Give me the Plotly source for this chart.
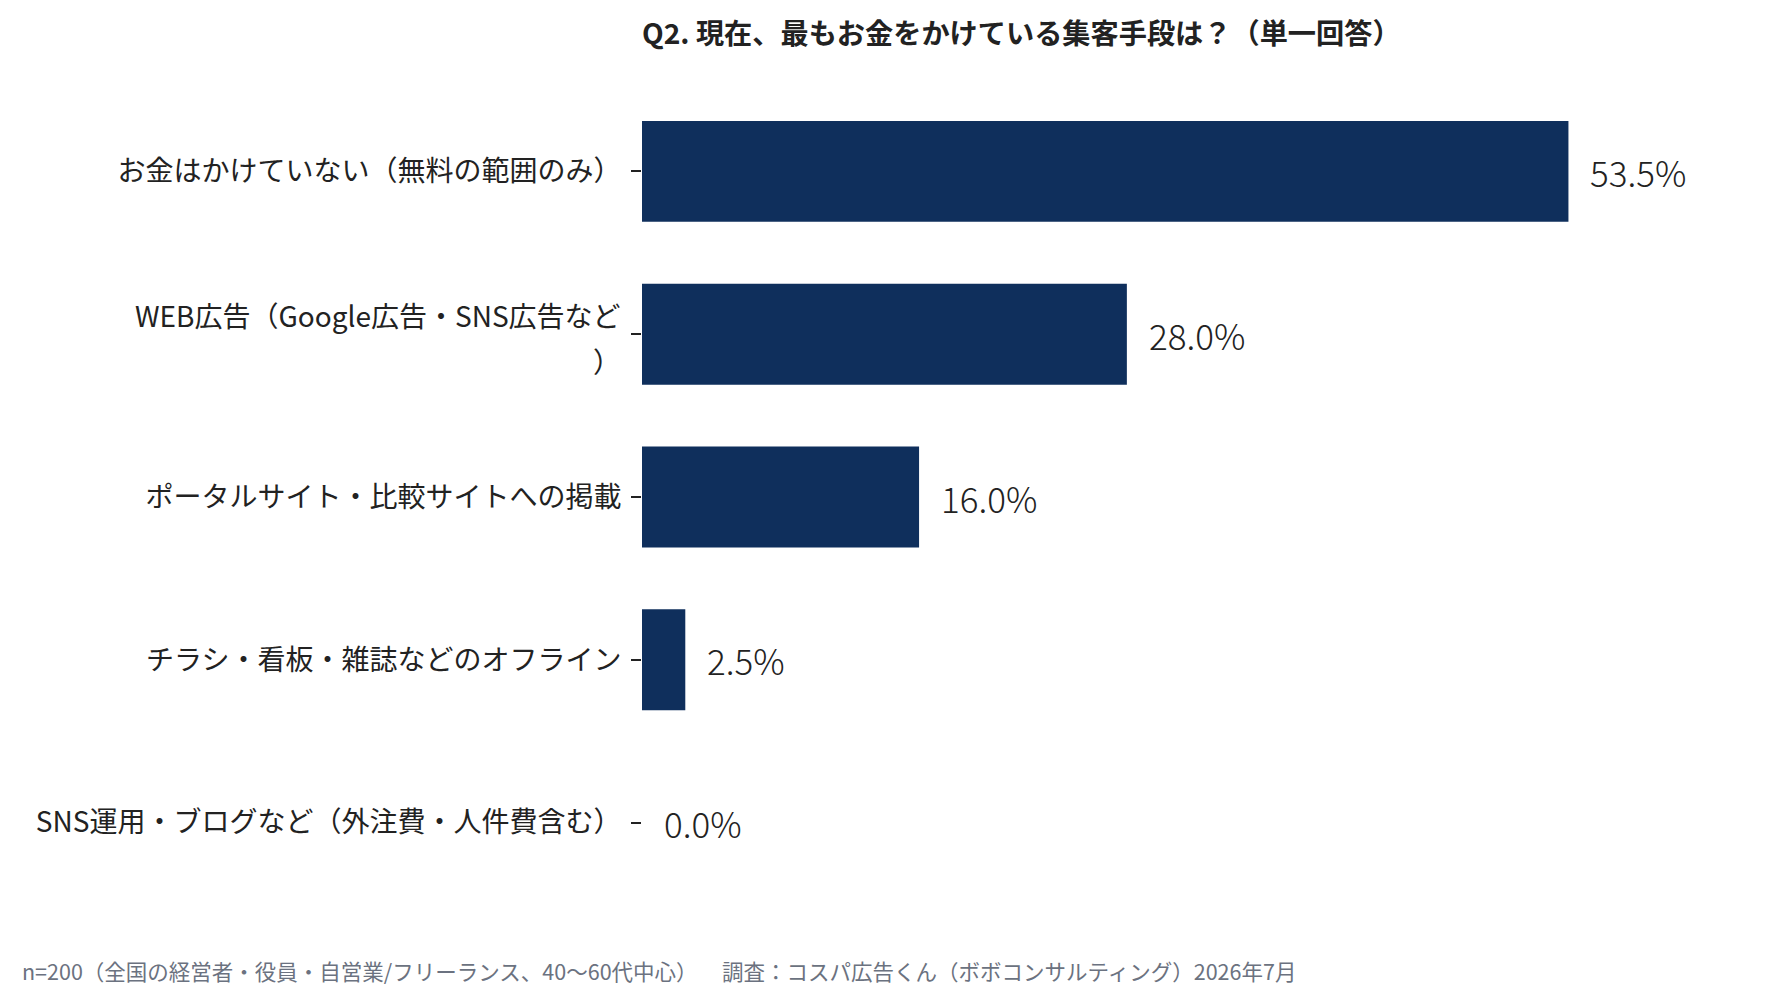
import plotly.graph_objects as go

# ---- data ----
categories = [
    "お金はかけていない（無料の範囲のみ）",
    "WEB広告（Google広告・SNS広告など<br>）",
    "ポータルサイト・比較サイトへの掲載",
    "チラシ・看板・雑誌などのオフライン",
    "SNS運用・ブログなど（外注費・人件費含む）",
]
values = [53.5, 28.0, 16.0, 2.5, 0.0]
value_labels = [f"{v:.1f}%" for v in values]

title_text = "Q2. 現在、最もお金をかけている集客手段は？（単一回答）"
footer_sample = "n=200（全国の経営者・役員・自営業/フリーランス、40〜60代中心）"
footer_source = "調査：コスパ広告くん（ボボコンサルティング）2026年7月"

# ---- style ----
BAR_COLOR = "#0f2f5c"
TEXT_COLOR = "#222222"
FOOT_COLOR = "#6b7280"
FONT = "Noto Sans CJK JP"
TICK_SIZE = 28

W, H = 1791, 1001
ML, MR, MT, MB = 642, 110, 90, 97
plot_w = W - ML - MR
plot_h = H - MT - MB

fig = go.Figure()
fig.add_trace(go.Bar(
    x=values,
    y=categories,
    orientation="h",
    marker=dict(color=BAR_COLOR, line=dict(width=0)),
    hoverinfo="skip",
))

annotations = []
# value labels next to bars
for cat, v, lab in zip(categories, values, value_labels):
    annotations.append(dict(
        x=v, y=cat, xref="x", yref="y",
        text=lab, showarrow=False,
        xanchor="left", yanchor="middle", xshift=20,
        font=dict(family=FONT, size=35, color=TEXT_COLOR, weight=300),
    ))

# wrapped category labels drawn line by line (wider line spacing)
ticktext = []
for cat in categories:
    if "<br>" in cat:
        ticktext.append("")
        lines = cat.split("<br>")
        shifts = [19, -27]
        for line, ys in zip(lines, shifts):
            annotations.append(dict(
                x=0, y=cat, xref="paper", yref="y",
                text=line, showarrow=False,
                xanchor="right", yanchor="middle",
                xshift=-19, yshift=ys,
                font=dict(family=FONT, size=TICK_SIZE, color=TEXT_COLOR),
            ))
    else:
        ticktext.append(cat)

# footer
foot_y = -(970 - (H - MB)) / plot_h
annotations.append(dict(
    x=(20 - ML) / plot_w, y=foot_y, xref="paper", yref="paper",
    text=footer_sample, showarrow=False,
    xanchor="left", yanchor="middle",
    font=dict(family=FONT, size=21.5, color=FOOT_COLOR),
))
annotations.append(dict(
    x=(720 - ML) / plot_w, y=foot_y, xref="paper", yref="paper",
    text=footer_source, showarrow=False,
    xanchor="left", yanchor="middle",
    font=dict(family=FONT, size=21.5, color=FOOT_COLOR),
))

fig.update_layout(
    width=W, height=H,
    margin=dict(l=ML, r=MR, t=MT, b=MB, pad=0),
    paper_bgcolor="white",
    plot_bgcolor="white",
    bargap=0.38,
    showlegend=False,
    font=dict(family=FONT, color=TEXT_COLOR),
    title=dict(
        text=f"<b>{title_text}</b>",
        x=0, xref="paper", xanchor="left",
        y=1 - 34 / H, yref="container", yanchor="middle",
        font=dict(family=FONT, size=28.2, color=TEXT_COLOR),
    ),
    xaxis=dict(
        range=[0, 60],
        visible=False,
        showgrid=False,
        zeroline=False,
    ),
    yaxis=dict(
        autorange="reversed",
        showgrid=False,
        zeroline=False,
        showline=False,
        tickmode="array",
        tickvals=categories,
        ticktext=ticktext,
        ticks="outside",
        ticklen=10,
        tickwidth=2,
        tickcolor="#222222",
        ticklabelstandoff=4,
        tickfont=dict(family=FONT, size=TICK_SIZE, color=TEXT_COLOR),
    ),
    annotations=annotations,
)

fig.write_html("out.html")
